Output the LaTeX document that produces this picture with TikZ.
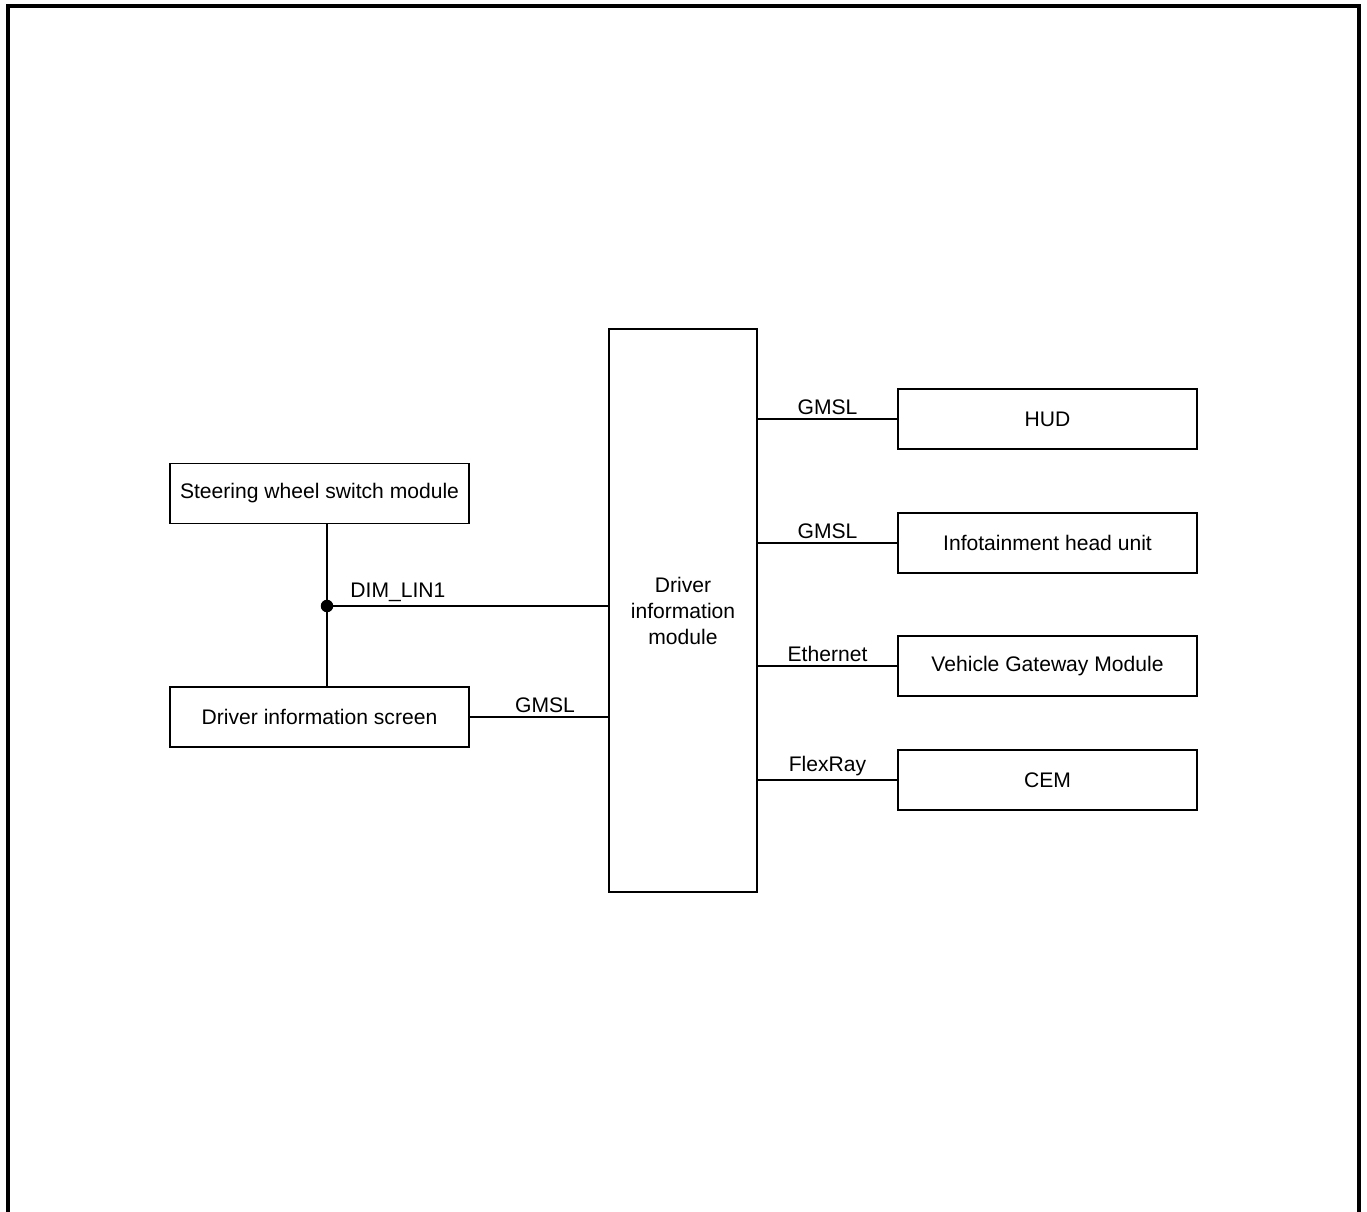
\documentclass[tikz,border=0pt]{standalone}
\usepackage{fontspec}
\setmainfont{Liberation Sans}
\usepackage{tikz}
\usetikzlibrary{positioning,calc}

\begin{document}
\begin{tikzpicture}[font=\fontsize{12}{14.8}\selectfont,
 mod/.style={draw,line width=1.1pt,minimum width=5.98cm,minimum height=1.2cm,inner sep=2pt,align=center},
 dim/.style={draw,line width=1.1pt,minimum width=2.96cm,minimum height=11.26cm,align=center},
 bus/.style={line width=1.1pt},
 lb/.style={above,inner sep=2pt},
 frm/.style={line width=2.2pt}]
\useasboundingbox (0,0) rectangle (27.34,24.22);
% outer frame, open at the bottom
\draw[frm] (0.16,-0.5) -- (0.16,24.10) -- (27.18,24.10) -- (27.18,-0.5);
% modules
\node[dim] (dim) at (13.66,12.01) {Driver\\ information\\ module};
\node[mod] (sw) at (6.39,14.35) {Steering wheel switch module};
\node[mod] (dis) at (6.39,9.88) {Driver information screen};
\node[mod] (hud) at (20.95,15.84) {HUD};
\node[mod] (ihu) at (20.95,13.36) {Infotainment head unit};
\node[mod] (vgm) at (20.95,10.90) {Vehicle Gateway Module};
\node[mod] (cem) at (20.95,8.62) {CEM};
% LIN bus with junction
\coordinate (jn) at (6.54,12.10);
\draw[bus] (sw.south -| jn) -- (dis.north -| jn);
\draw[bus] (jn) -- node[lb,pos=0,anchor=south west,xshift=0.38cm]{DIM\_LIN1} (dim.west |- jn);
\fill (jn) circle (0.125);
% point to point links
\draw[bus] (dis.east) -- node[lb,xshift=0.12cm]{GMSL} (dim.west |- dis.east);
\draw[bus] (dim.east |- hud.west) -- node[lb]{GMSL} (hud.west);
\draw[bus] (dim.east |- ihu.west) -- node[lb]{GMSL} (ihu.west);
\draw[bus] (dim.east |- vgm.west) -- node[lb]{Ethernet} (vgm.west);
\draw[bus] (dim.east |- cem.west) -- node[lb]{FlexRay} (cem.west);
\end{tikzpicture}
\end{document}
